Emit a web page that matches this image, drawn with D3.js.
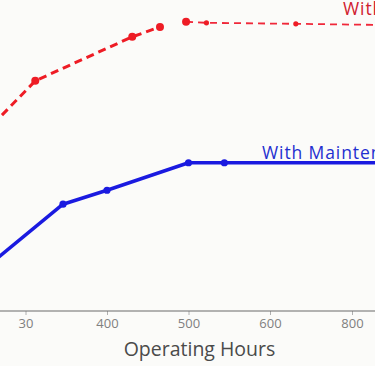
<!DOCTYPE html>
<html>
<head>
<meta charset="utf-8">
<script src="https://cdn.jsdelivr.net/npm/d3@7"></script>
<style>
  html, body { margin: 0; padding: 0; background: #fbfbf9; }
  svg { display: block; overflow: hidden; font-family: "Open Sans", "Noto Sans", sans-serif; }
</style>
</head>
<body>
<svg id="chart" width="375" height="366"></svg>
<script>
// ---- data ----
const tickValues = [300, 400, 500, 600, 800];
const tickLabels = ["30", "400", "500", "600", "800"];

// Without maintenance (red, dashed) — two segments separated by a gap
const redHoursA = [260, 312, 431, 465];
const redValuesA = [76.0, 84.4, 92.9, 94.8];
const redHoursB = [497, 522, 663, 860];
const redValuesB = [95.8, 95.6, 95.4, 95.2];

// With maintenance (blue, solid)
const blueHours = [260, 346, 400, 500, 544, 860];
const blueValues = [49.5, 60.6, 63.3, 68.6, 68.6, 68.6];

const seriesLabels = ["With Maintenance", "Without Maintenance"];
const xTitle = "Operating Hours";

// ---- layout ----
const W = 375, H = 366;
const axisY = 311;
const svg = d3.select("#chart");

const x = d3.scaleLinear()
  .domain(tickValues)
  .range([25.5, 107, 188.5, 270, 352]);
const y = d3.scaleLinear().domain([40, 100]).range([axisY, 0]);

// axis
const axis = d3.axisBottom(x)
  .tickValues(tickValues)
  .tickFormat((d, i) => tickLabels[i])
  .tickSize(4)
  .tickPadding(4);
const gA = svg.append("g").attr("transform", `translate(0,${axisY})`).call(axis);
gA.select(".domain").remove();
gA.append("line").attr("x1", 0).attr("x2", W).attr("y1", 0).attr("y2", 0)
  .attr("stroke", "#6b6b6b").attr("stroke-width", 1.2);
gA.selectAll(".tick line").attr("stroke", "#b0b0b0").attr("stroke-width", 1);
gA.selectAll(".tick text").attr("fill", "#808080").attr("font-size", 13)
  .attr("font-family", "'Open Sans', 'Noto Sans', sans-serif");

svg.append("text").attr("x", 199.5).attr("y", 356)
  .attr("text-anchor", "middle").attr("font-size", 19.5).attr("fill", "#4a4a4a")
  .text(xTitle);

const line = d3.line().x(d => x(d[0])).y(d => y(d[1]));

// red segments
const redA = redHoursA.map((h, i) => [h, redValuesA[i]]);
const redB = redHoursB.map((h, i) => [h, redValuesB[i]]);
svg.append("path").datum(redA).attr("d", line).attr("fill", "none")
  .attr("stroke", "#ee1c25").attr("stroke-width", 3).attr("stroke-dasharray", "8,5");
svg.append("path").datum(redB).attr("d", line).attr("fill", "none")
  .attr("stroke", "#f0283a").attr("stroke-width", 1.8).attr("stroke-dasharray", "7,5");
svg.selectAll(".ra").data(redA.slice(1)).enter().append("circle")
  .attr("cx", d => x(d[0])).attr("cy", d => y(d[1])).attr("r", 4).attr("fill", "#ee1c25");
svg.selectAll(".rb").data(redB.slice(0, 3)).enter().append("circle")
  .attr("cx", d => x(d[0])).attr("cy", d => y(d[1])).attr("r", (d, i) => i === 0 ? 4 : 2.6)
  .attr("fill", "#ee1c25");

// blue
const blue = blueHours.map((h, i) => [h, blueValues[i]]);
svg.append("path").datum(blue).attr("d", line).attr("fill", "none")
  .attr("stroke", "#1a1ae0").attr("stroke-width", 3.5).attr("stroke-linejoin", "round");
svg.selectAll(".bd").data(blue.slice(1, 5)).enter().append("circle")
  .attr("cx", d => x(d[0])).attr("cy", d => y(d[1])).attr("r", 3.6).attr("fill", "#1a1ae0");

// labels
svg.append("text").attr("x", 262).attr("y", 159).attr("font-size", 17.5)
  .attr("letter-spacing", 0.9).attr("fill", "#1f2fd0").text(seriesLabels[0]);
svg.append("text").attr("x", 343).attr("y", 15).attr("font-size", 17.5)
  .attr("letter-spacing", 0.9).attr("fill", "#d0202e").text(seriesLabels[1]);
</script>
</body>
</html>
